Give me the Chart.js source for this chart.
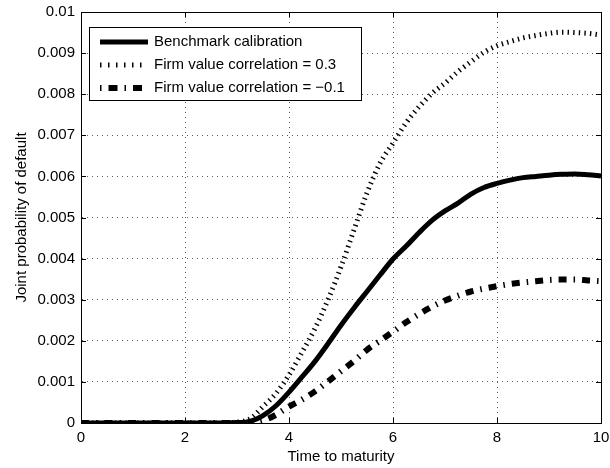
<!DOCTYPE html>
<html>
<head>
<meta charset="utf-8">
<script src="https://cdn.jsdelivr.net/npm/chart.js@4"></script>
<style>
    html, body { margin: 0; padding: 0; background: #fff; }
    #wrap { width: 610px; height: 468px; }
</style>
</head>
<body>
<div id="wrap"><canvas id="jointDefaultChart" width="610" height="468"></canvas></div>
<script>
const times = [0, 0.25, 0.5, 0.75, 1, 1.25, 1.5, 1.75, 2, 2.25, 2.5, 2.75, 3, 3.25, 3.5, 3.75, 4, 4.25, 4.5, 4.75,
    5, 5.25, 5.5, 5.75, 6, 6.25, 6.5, 6.75, 7, 7.25, 7.5, 7.75, 8, 8.25, 8.5, 8.75, 9, 9.25, 9.5, 9.75, 10];

const benchmark = [0, 0, 0, 0, 0, 0, 0, 0, 0, 0, 0, 0, 0.00001, 0.00004, 0.00018, 0.00042, 0.00075, 0.00112, 0.0015, 0.00193,
    0.00238, 0.0028, 0.0032, 0.0036, 0.00399, 0.0043, 0.00463, 0.00493, 0.00516, 0.00535, 0.00557, 0.00573, 0.00583, 0.00591, 0.00597, 0.006,
    0.00603, 0.00605, 0.00606, 0.00604, 0.00601];

const corrHigh = [0, 0, 0, 0, 0, 0, 0, 0, 0, 0, 0, 0, 0.00002, 0.0001, 0.0004, 0.00072, 0.00117, 0.00172, 0.0023, 0.003,
    0.0038, 0.0047, 0.0056, 0.00632, 0.00681, 0.0073, 0.00769, 0.00802, 0.00827, 0.00855, 0.00879, 0.00902, 0.00918, 0.00928, 0.00937, 0.00943,
    0.00948, 0.00951, 0.0095, 0.00948, 0.00944];

const corrNeg = [0, 0, 0, 0, 0, 0, 0, 0, 0, 0, 0, 0, 0, 0.00001, 0.00006, 0.0002, 0.0004, 0.00057, 0.00077, 0.00101,
    0.00126, 0.00151, 0.00178, 0.002, 0.00222, 0.00245, 0.00265, 0.00283, 0.00298, 0.0031, 0.0032, 0.00327, 0.00333, 0.00338, 0.00342, 0.00345,
    0.00348, 0.00349, 0.00349, 0.00347, 0.00345];

const seriesLabels = ['Benchmark calibration', 'Firm value correlation = 0.3', 'Firm value correlation = \u22120.1'];
const xTicks = [0, 2, 4, 6, 8, 10];
const yTicks = ['0', '0.001', '0.002', '0.003', '0.004', '0.005', '0.006', '0.007', '0.008', '0.009', '0.01'];

const font = "'Liberation Sans', Arial, Helvetica, sans-serif";

// the legend samples are drawn with a wider dash period than the curves
const legendDash = [[], [1.5, 6.5], [1.5, 7, 9, 7]];

function points(values) {
    return times.map((t, i) => ({ x: t, y: values[i] }));
}

function noEdgePadding(s) {
    s.paddingLeft = 0;
    s.paddingRight = 0;
    s.paddingTop = 0;
    s.paddingBottom = 0;
}

// box, inward ticks and in-plot legend, matlab style
const matlabFrame = {
    id: 'matlabFrame',
    afterDatasetsDraw(chart) {
        const { ctx, chartArea: a, scales } = chart;
        ctx.save();
        ctx.strokeStyle = '#000';
        ctx.lineWidth = 1;
        ctx.setLineDash([]);
        ctx.beginPath();
        xTicks.forEach(v => {
            const px = Math.round(scales.x.getPixelForValue(v)) + 0.5;
            ctx.moveTo(px, a.bottom); ctx.lineTo(px, a.bottom - 5);
            ctx.moveTo(px, a.top); ctx.lineTo(px, a.top + 5);
        });
        yTicks.forEach((_, i) => {
            const py = Math.round(scales.y.getPixelForValue(i * 0.001)) + 0.5;
            ctx.moveTo(a.left, py); ctx.lineTo(a.left + 5, py);
            ctx.moveTo(a.right, py); ctx.lineTo(a.right - 5, py);
        });
        ctx.stroke();
        ctx.strokeRect(Math.round(a.left) + 0.5, Math.round(a.top) + 0.5, Math.round(a.width), Math.round(a.height));

        // legend box
        const bx = 89.5, by = 27.5, bw = 272, bh = 73;
        ctx.fillStyle = '#fff';
        ctx.fillRect(bx, by, bw, bh);
        ctx.strokeRect(bx, by, bw, bh);
        const rows = [42, 65, 88];
        chart.data.datasets.forEach((ds, i) => {
            const y = rows[i];
            ctx.beginPath();
            ctx.lineWidth = ds.borderWidth;
            ctx.lineCap = 'butt';
            ctx.setLineDash(legendDash[i]);
            ctx.strokeStyle = '#000';
            ctx.moveTo(100, y);
            ctx.lineTo(148, y);
            ctx.stroke();
            ctx.setLineDash([]);
            ctx.fillStyle = '#000';
            ctx.font = '15px ' + font;
            ctx.textBaseline = 'middle';
            ctx.textAlign = 'left';
            ctx.fillText(ds.label, 154, y);
        });
        ctx.restore();
    }
};

new Chart(document.getElementById('jointDefaultChart'), {
    type: 'line',
    data: {
        datasets: [
            {
                label: seriesLabels[0],
                data: points(benchmark),
                borderColor: '#000',
                borderWidth: 5,
                pointRadius: 0,
                cubicInterpolationMode: 'monotone',
            },
            {
                label: seriesLabels[1],
                data: points(corrHigh),
                borderColor: '#000',
                borderWidth: 5,
                borderDash: [1.4, 4.2],
                borderCapStyle: 'butt',
                pointRadius: 0,
                cubicInterpolationMode: 'monotone',
            },
            {
                label: seriesLabels[2],
                data: points(corrNeg),
                borderColor: '#000',
                borderWidth: 6,
                borderDash: [8, 7, 1.5, 7],
                borderCapStyle: 'butt',
                pointRadius: 0,
                cubicInterpolationMode: 'monotone',
            }
        ]
    },
    options: {
        responsive: false,
        animation: false,
        layout: { padding: { top: 12, right: 9, left: 9, bottom: 0 } },
        plugins: {
            legend: { display: false },
            tooltip: { enabled: false },
        },
        scales: {
            x: {
                type: 'linear',
                min: 0,
                max: 10,
                afterFit: s => { s.height = 45; noEdgePadding(s); },
                afterBuildTicks: s => { s.ticks = xTicks.map(v => ({ value: v })); },
                grid: { color: 'rgba(0,0,0,0.65)', drawTicks: false, lineWidth: 1 },
                border: { display: true, color: '#000', dash: [1, 4] },
                ticks: { color: '#000', padding: 6, font: { family: font, size: 15 }, callback: v => String(v), maxRotation: 0 },
                title: { display: true, text: 'Time to maturity', color: '#000', padding: { top: 0, bottom: 2 }, font: { family: font, size: 15 } },
            },
            y: {
                min: 0,
                max: 0.01,
                afterFit: s => { s.width = 72; noEdgePadding(s); },
                afterBuildTicks: s => { s.ticks = yTicks.map((_, i) => ({ value: i * 0.001 })); },
                grid: { color: 'rgba(0,0,0,0.65)', drawTicks: false, lineWidth: 1 },
                border: { display: true, color: '#000', dash: [1, 4] },
                ticks: { color: '#000', padding: 6, font: { family: font, size: 15 }, callback: (v, i) => yTicks[i] },
                title: { display: true, text: 'Joint probability of default', color: '#000', padding: { top: 4, bottom: 4 }, font: { family: font, size: 15 } },
            }
        }
    },
    plugins: [matlabFrame]
});
</script>
</body>
</html>
